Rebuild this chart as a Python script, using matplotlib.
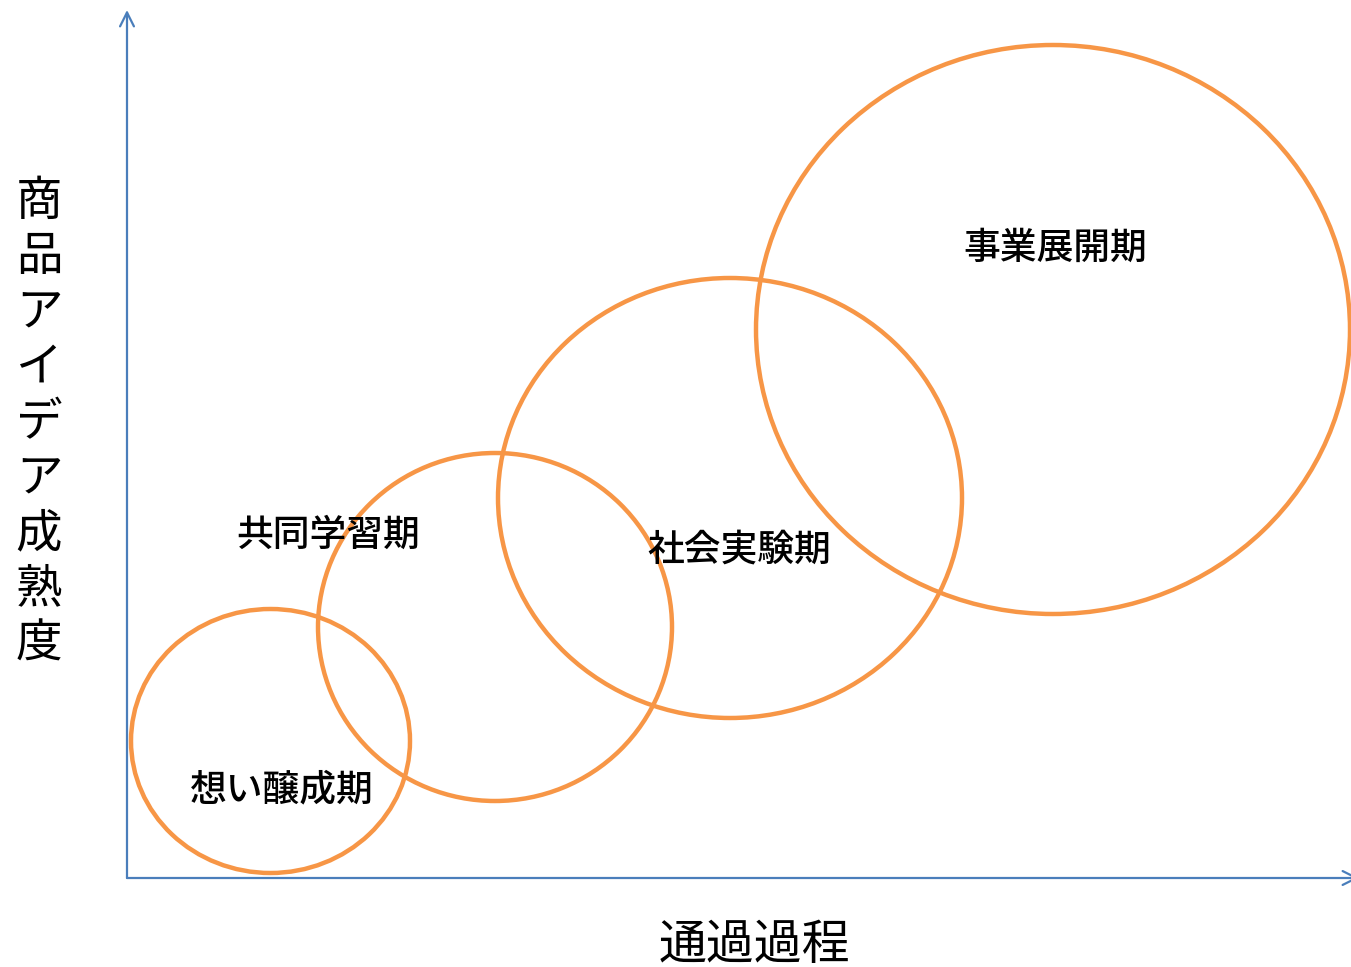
import matplotlib.pyplot as plt
from matplotlib.patches import Ellipse

plt.rcParams['font.family'] = ['Noto Sans CJK JP', 'DejaVu Sans']

# stages: ellipse centre, size and label position (in axis units)
stages = ["想い醸成期", "共同学習期", "社会実験期", "事業展開期"]
center_x = [143.5, 368, 603, 926]
center_y = [137, 251, 380, 548.5]
widths = [279, 354, 464, 594]
heights = [264, 348, 440, 569]
label_x = [155, 201, 612, 928]
label_y = [89, 343, 329, 630]

x_label = "通過過程"
y_label = "商品アイデア成熟度"

orange = "#F79646"
blue = "#4A7EBB"

fig = plt.figure(figsize=(13.51, 9.67), dpi=100)
ax = fig.add_axes([0, 0, 1, 1])
ax.set_xlim(-127, 1224)
ax.set_ylim(-89, 878)
ax.axis("off")

for cx, cy, w, h in zip(center_x, center_y, widths, heights):
    ax.add_patch(Ellipse((cx, cy), w, h, fill=False, edgecolor=orange, linewidth=3.2))

for name, lx, ly in zip(stages, label_x, label_y):
    ax.text(lx, ly, name, fontsize=26.5, ha="center", va="center", color="black",
            fontweight="medium")

# axis arrows
ax.annotate("", xy=(0, 868), xytext=(0, 0), annotation_clip=False,
            arrowprops=dict(arrowstyle="->", color=blue, lw=1.6, mutation_scale=25,
                            shrinkA=0, shrinkB=0))
ax.annotate("", xy=(1232, 0), xytext=(0, 0), annotation_clip=False,
            arrowprops=dict(arrowstyle="->", color=blue, lw=1.6, mutation_scale=25,
                            shrinkA=0, shrinkB=0))

ax.text(627, -67, x_label, fontsize=34.5, ha="center", va="center")
ax.text(-88, 455, "\n".join(y_label), fontsize=33.5, ha="center", va="center",
        linespacing=1.185)

fig.savefig("out.png", dpi=100)
